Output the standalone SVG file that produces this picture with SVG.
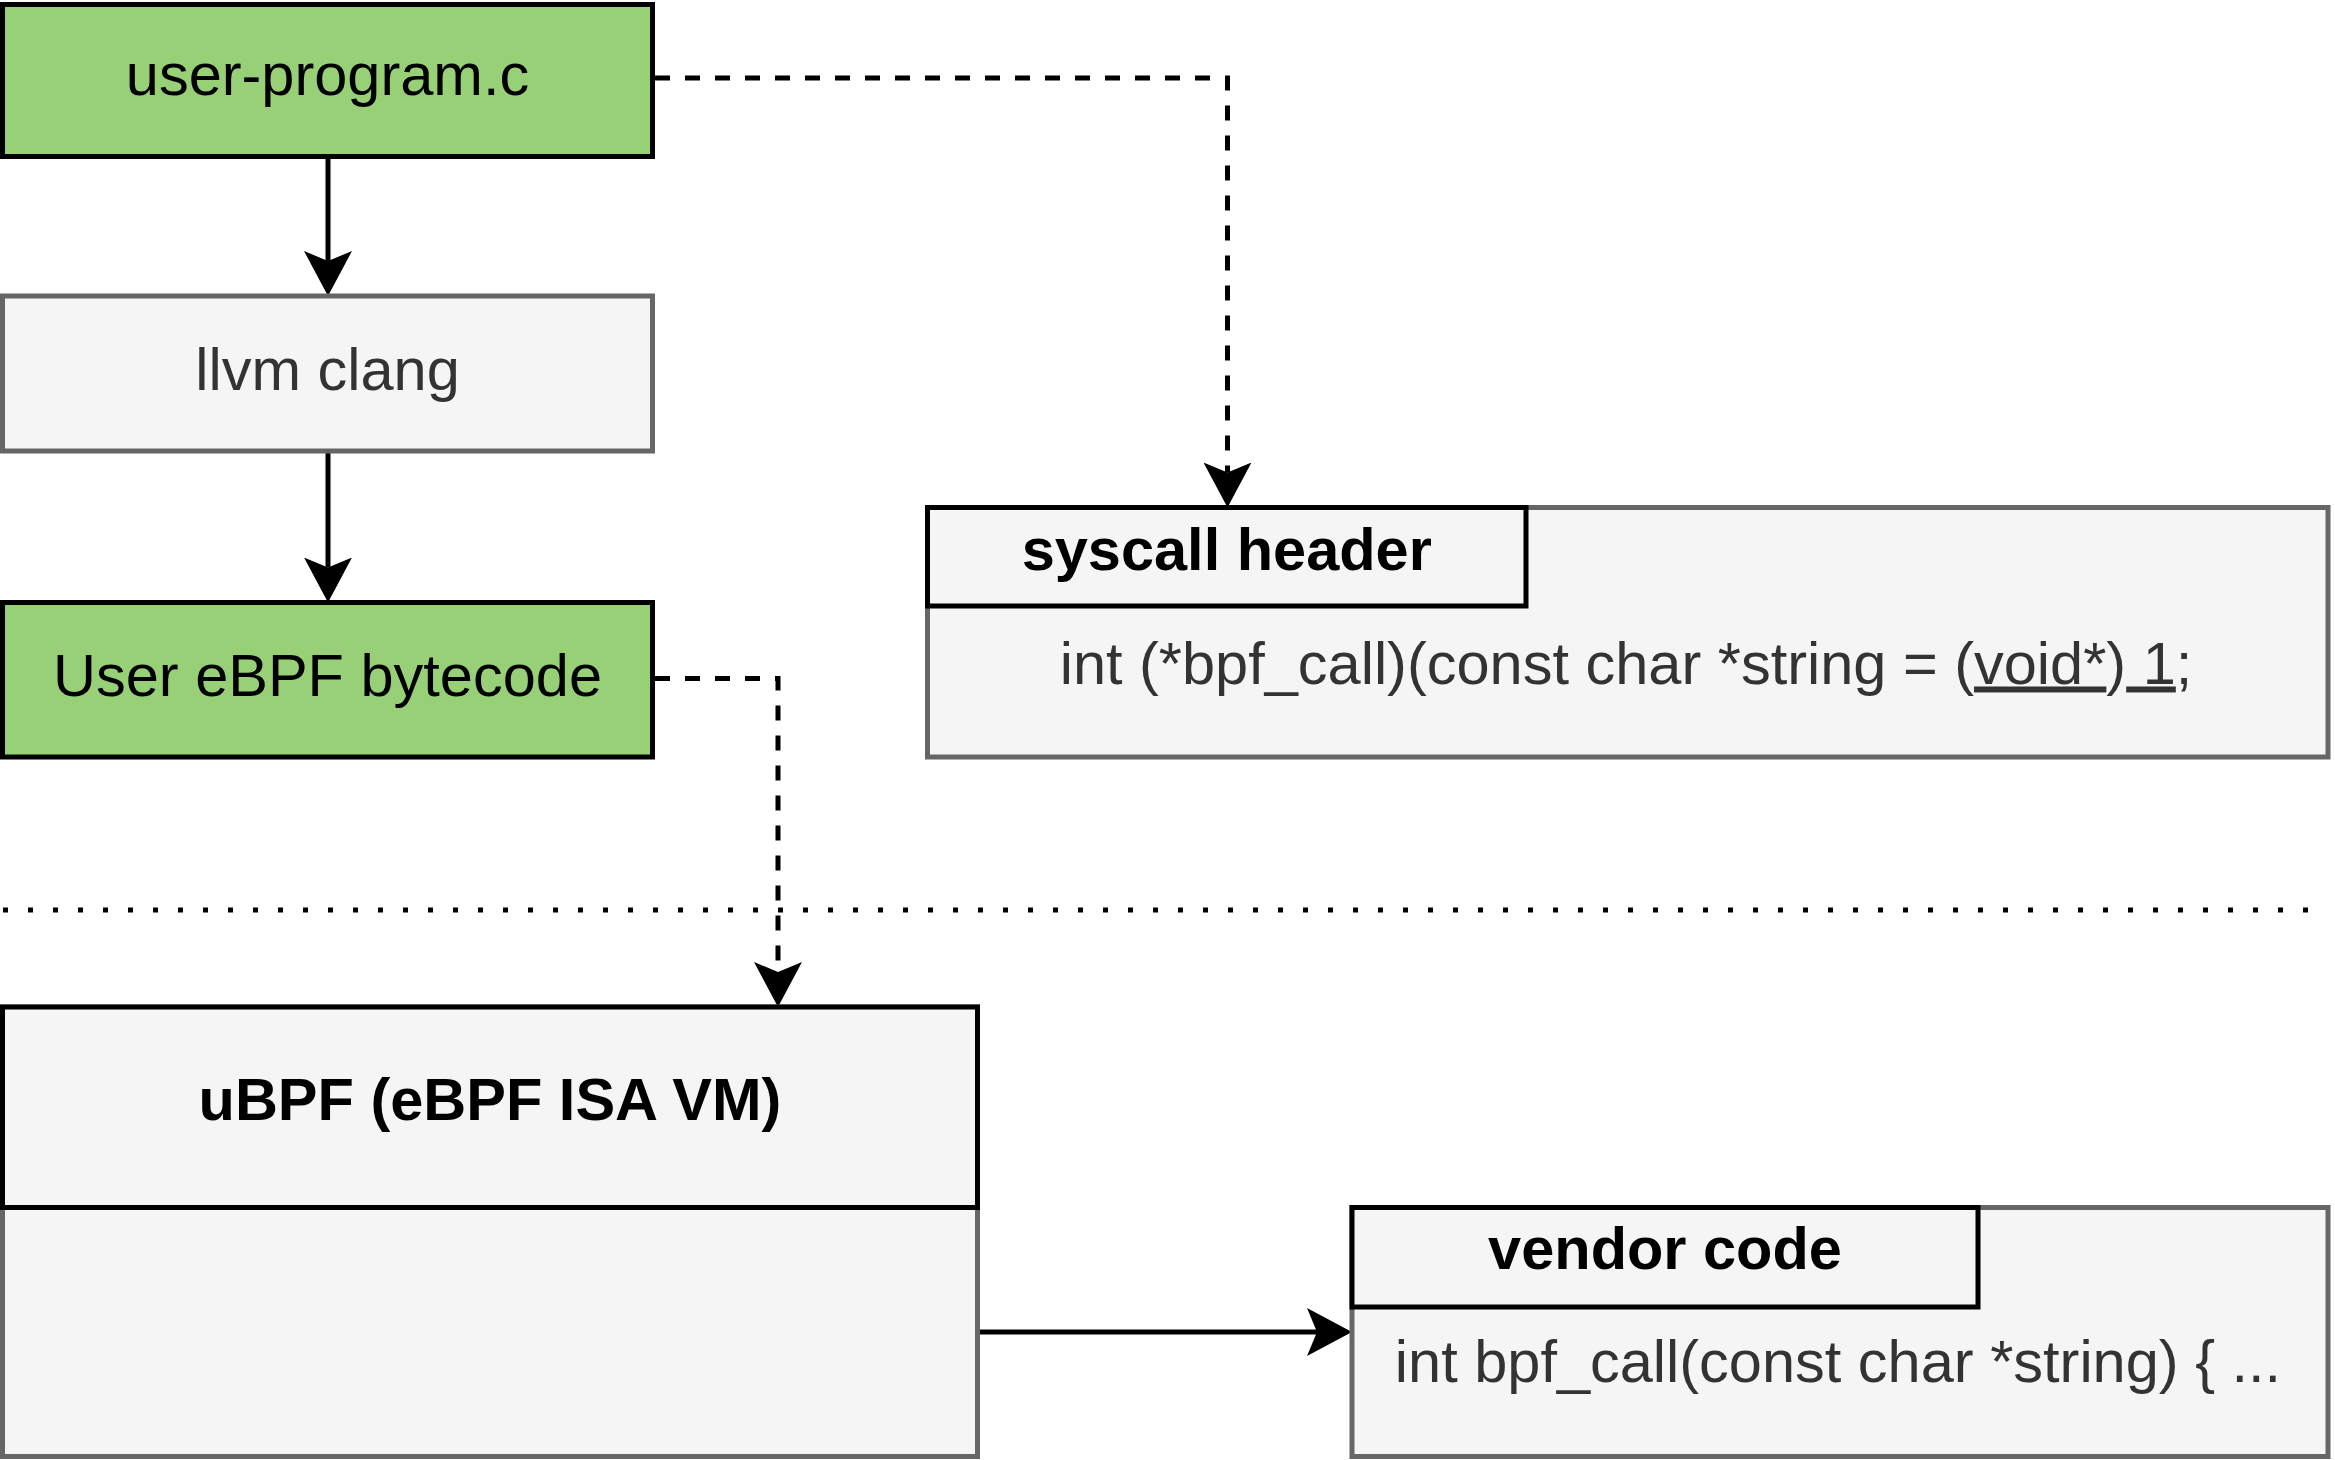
<svg xmlns="http://www.w3.org/2000/svg" width="2335" height="1460" viewBox="0 0 2335 1460">
  <style>
    .txt { font-family: "Liberation Sans", Arial, Helvetica, sans-serif; font-size: 59.5px; text-anchor: middle; }
    .dark { fill: #000000; }
    .grey { fill: #333333; }
    .bold { font-weight: bold; fill: #000000; }
    .green { fill: #97D077; stroke: #000000; stroke-width: 5; }
    .gbox { fill: #F5F5F5; stroke: #666666; stroke-width: 5; }
    .hbox { fill: #F5F5F5; stroke: #000000; stroke-width: 5; }
    .edge { fill: none; stroke: #000000; stroke-width: 5; }
    .dash { stroke-dasharray: 15 15; }
    .dot { stroke-dasharray: 5 20; }
  </style>
  <defs>
    <marker id="arrow" markerUnits="userSpaceOnUse" viewBox="0 0 45 48" markerWidth="45" markerHeight="48" refX="10" refY="24" orient="auto">
      <path d="M0,0 L45,24 L0,48 L10,24 Z" fill="#000000"/>
    </marker>
  </defs>
  <rect width="2335" height="1460" fill="#FFFFFF"/>

  <g id="connectors">
    <path class="edge" d="M328,156.5 L328,261" marker-end="url(#arrow)"/>
    <path class="edge" d="M328,451 L328,567.5" marker-end="url(#arrow)"/>
    <path class="edge dash" d="M655,78 L1227.5,78 L1227.5,472.5" marker-end="url(#arrow)"/>
    <path class="edge dash" d="M655,678.5 L778,678.5 L778,972" marker-end="url(#arrow)"/>
    <path class="edge" d="M977.5,1332 L1317,1332" marker-end="url(#arrow)"/>
  </g>

  <g id="separator">
    <path class="edge dot" d="M3,910 L2320,910"/>
  </g>

  <g id="user-program">
    <rect class="green" x="2.5" y="4.5" width="650" height="152"/>
    <text class="txt dark" x="327.5" y="95">user-program.c</text>
  </g>

  <g id="llvm-clang">
    <rect class="gbox" x="2.5" y="296" width="650" height="155"/>
    <text class="txt grey" x="327.5" y="390">llvm clang</text>
  </g>

  <g id="user-bytecode">
    <rect class="green" x="2.5" y="602.5" width="650" height="154.5"/>
    <text class="txt dark" x="327.5" y="695.5">User eBPF bytecode</text>
  </g>

  <g id="syscall-header">
    <rect class="gbox" x="927.5" y="507.5" width="1400.5" height="249.5"/>
    <rect class="hbox" x="927.5" y="507.5" width="598.5" height="98.5"/>
    <text class="txt bold" x="1226.75" y="570">syscall header</text>
    <text class="txt grey" x="1626" y="683.5">int (*bpf_call)(const char *string = (<tspan text-decoration="underline">void*</tspan>)<tspan text-decoration="underline"> 1</tspan>;</text>
  </g>

  <g id="ubpf">
    <rect class="gbox" x="2.5" y="1007" width="975" height="449.5"/>
    <rect class="hbox" x="2.5" y="1007" width="975" height="200.5"/>
    <text class="txt bold" x="490" y="1120">uBPF (eBPF ISA VM)</text>
  </g>

  <g id="vendor-code">
    <rect class="gbox" x="1352" y="1207.5" width="976" height="249"/>
    <rect class="hbox" x="1352" y="1207.5" width="626" height="99.5"/>
    <text class="txt bold" x="1665" y="1269">vendor code</text>
    <text class="txt grey" x="1838" y="1382">int bpf_call(const char *string) { ...</text>
  </g>
</svg>
